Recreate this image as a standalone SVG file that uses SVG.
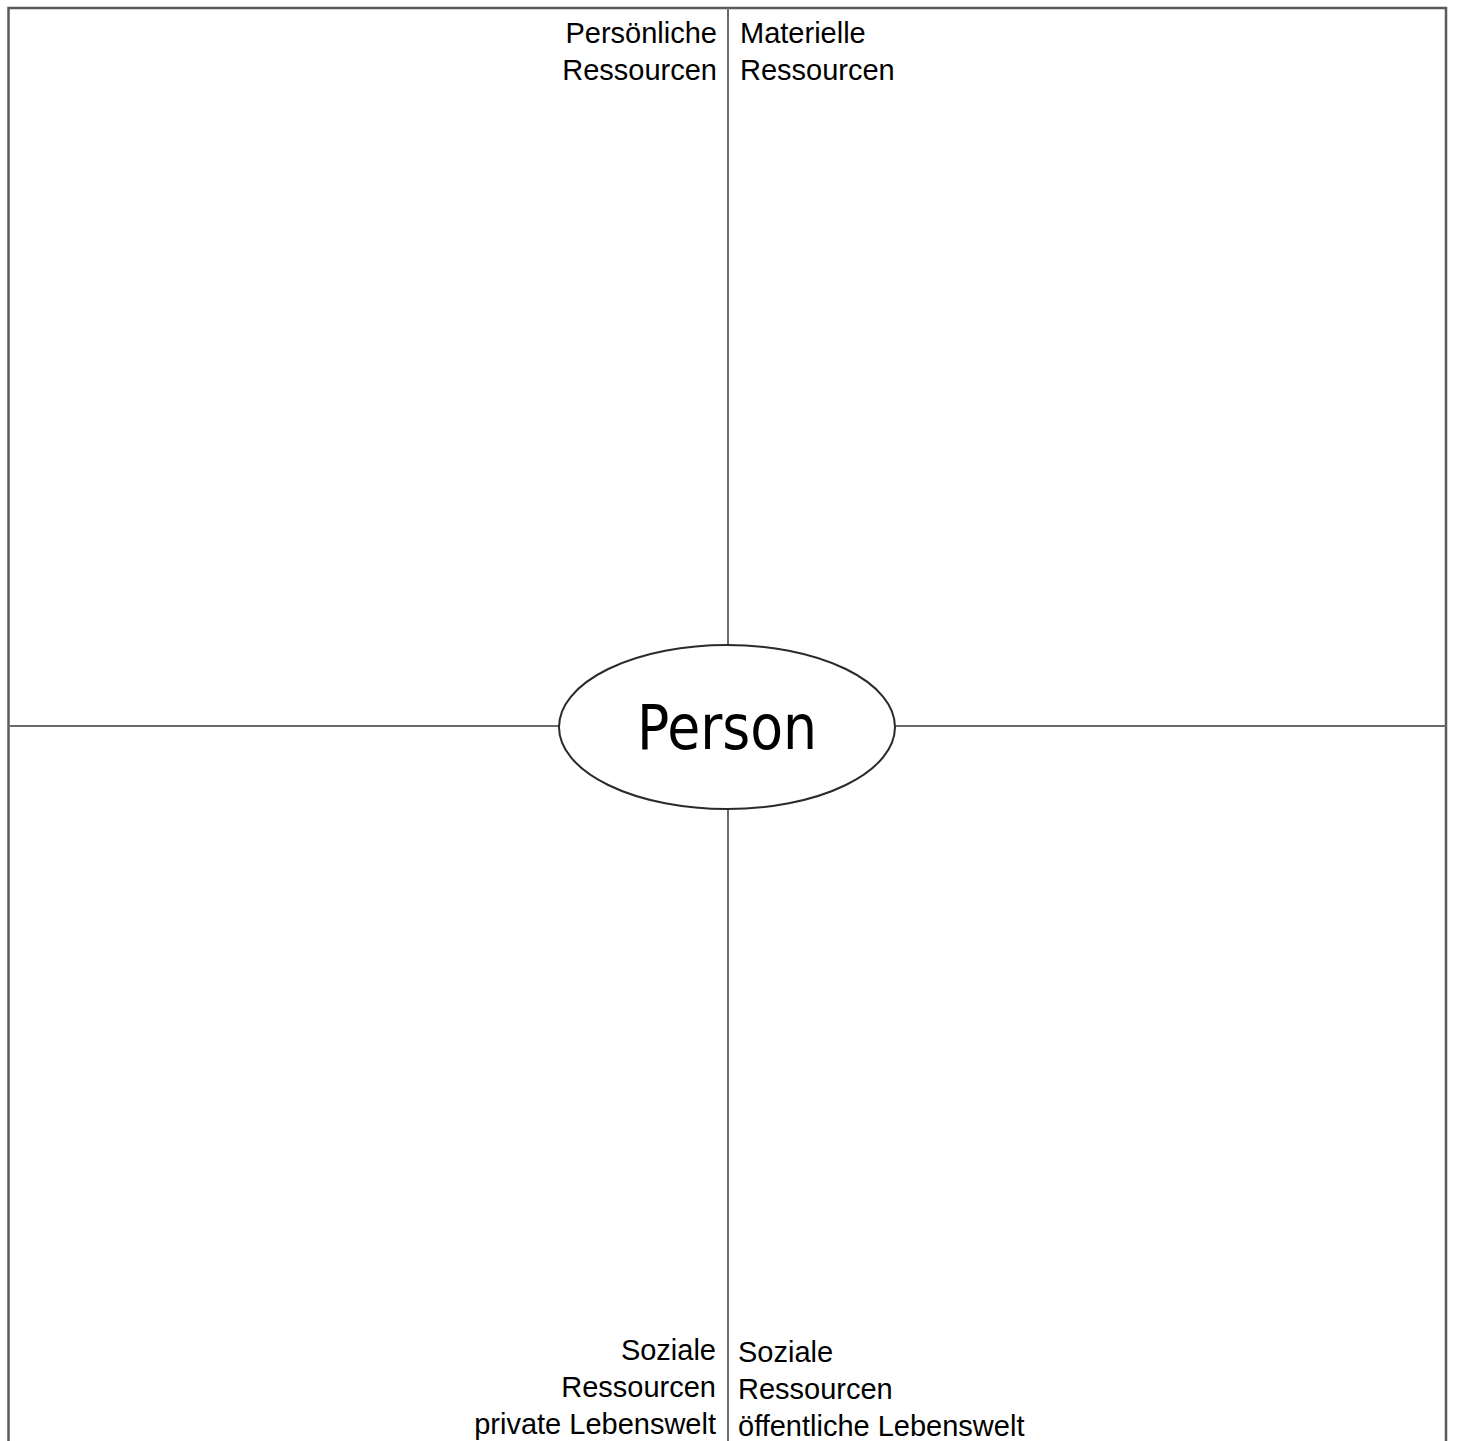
<svg xmlns="http://www.w3.org/2000/svg" width="1457" height="1441" viewBox="0 0 1457 1441">
  <style>
    .frame { fill: none; stroke: #5a5a5a; stroke-width: 2.5; }
    .axis { stroke: #6a6a6a; stroke-width: 2; fill: none; }
    .node { fill: #ffffff; stroke: #2a2a2a; stroke-width: 2; }
    .lbl { font-family: "Liberation Sans", Arial, sans-serif; font-size: 29px; fill: #000; }
    .r { text-anchor: end; }
    .person { font-family: "DejaVu Sans Condensed", "DejaVu Sans", sans-serif; font-stretch: condensed; font-size: 62px; fill: #000; text-anchor: middle; }
  </style>
  <rect width="1457" height="1441" fill="#ffffff"/>
  <g id="frame">
    <path class="frame" d="M8.5,1441 V8 H1446 V1441"/>
  </g>
  <g id="connectors">
    <line class="axis" x1="728" y1="8" x2="728" y2="645"/>
    <line class="axis" x1="728" y1="809" x2="728" y2="1441"/>
    <line class="axis" x1="8" y1="726" x2="559" y2="726"/>
    <line class="axis" x1="895" y1="726" x2="1446" y2="726"/>
  </g>
  <g id="person">
    <ellipse class="node" cx="727" cy="727" rx="168" ry="82"/>
    <text class="person" x="727" y="749" textLength="180" lengthAdjust="spacingAndGlyphs">Person</text>
  </g>
  <g id="persoenliche-ressourcen">
    <text class="lbl r" x="717" y="43">Persönliche</text>
    <text class="lbl r" x="717" y="80">Ressourcen</text>
  </g>
  <g id="materielle-ressourcen">
    <text class="lbl" x="740" y="43">Materielle</text>
    <text class="lbl" x="740" y="80">Ressourcen</text>
  </g>
  <g id="soziale-ressourcen-privat">
    <text class="lbl r" x="716" y="1360">Soziale</text>
    <text class="lbl r" x="716" y="1397">Ressourcen</text>
    <text class="lbl r" x="716" y="1434">private Lebenswelt</text>
  </g>
  <g id="soziale-ressourcen-oeffentlich">
    <text class="lbl" x="738" y="1362">Soziale</text>
    <text class="lbl" x="738" y="1399">Ressourcen</text>
    <text class="lbl" x="738" y="1436">öffentliche Lebenswelt</text>
  </g>
</svg>
